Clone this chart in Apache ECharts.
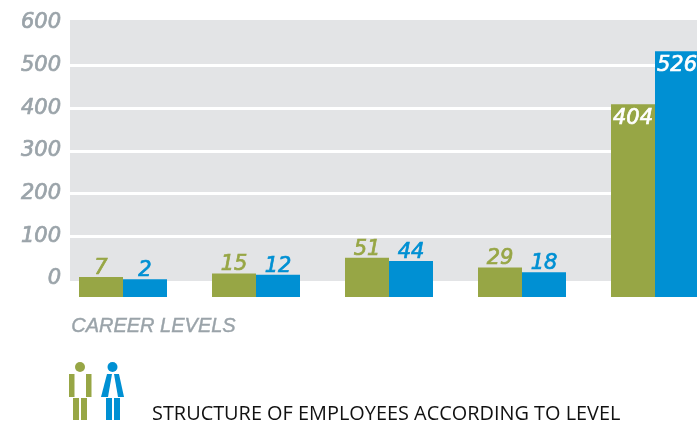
<!DOCTYPE html>
<html>
<head>
<meta charset="utf-8">
<style>html,body{margin:0;padding:0;background:#fff}#chart{width:697px;height:423px}</style>
<script src="https://cdn.jsdelivr.net/npm/echarts@6/dist/echarts.min.js"></script>
</head>
<body>
<div id="chart"></div>
<script>
// Employees per career level, split by gender
const levels = ['Level 1', 'Level 2', 'Level 3', 'Level 4', 'Level 5'];
const men = [7, 15, 51, 29, 404];
const women = [2, 12, 44, 18, 526];
const tickValues = [0, 100, 200, 300, 400, 500, 600];
const gridLineValues = [100, 200, 300, 400, 500];

const GREEN = '#97a645';
const BLUE = '#0090d3';
const GREY = '#9aa3a9';
const BAR_WIDTH = 44;
const BAR_FLOOR = -39; // bars hang below zero, down to the bottom of the lower grid
const NUM_FONT = 'oblique 21px "DejaVu Sans"';

// One side of a level group: side is -1 for the left bar, 0 for the right bar.
// Tall bars carry their number inside in white; short ones sit it on top of the bar.
function barSeries(name, values, colour, side) {
  return {
    name, type: 'custom', xAxisIndex: 1, yAxisIndex: 1, clip: false,
    encode: { x: 0, y: 1 },
    data: values.map((v, i) => [levels[i], v]),
    renderItem(params, api) {
      const top = api.coord([api.value(0), api.value(1)]);
      const floor = api.coord([api.value(0), BAR_FLOOR]);
      const inside = api.value(1) > 100;
      return {
        type: 'rect',
        shape: { x: top[0] + side * BAR_WIDTH, y: top[1], width: BAR_WIDTH, height: floor[1] - top[1] },
        style: { fill: colour },
        textContent: {
          style: {
            text: String(api.value(1)), font: NUM_FONT, fill: inside ? '#fff' : colour,
            stroke: inside ? '#fff' : colour, lineWidth: 0.7
          }
        },
        textConfig: inside
          ? { position: 'insideTop', distance: 4 }
          : { position: 'top', distance: -2 }
      };
    }
  };
}

const chart = echarts.init(document.getElementById('chart'), null, { renderer: 'canvas' });
chart.setOption({
  animation: false,
  backgroundColor: '#fff',
  grid: [
    { left: 70, right: 0, top: 20, height: 261, show: true, backgroundColor: '#e3e4e6', borderWidth: 0, outerBoundsMode: 'none' },
    { left: 56.5, width: 665, top: 20, height: 277, outerBoundsMode: 'none' }
  ],
  xAxis: [
    { type: 'category', gridIndex: 0, data: levels, show: false },
    { type: 'category', gridIndex: 1, data: levels, show: false }
  ],
  yAxis: [
    {
      type: 'value', gridIndex: 0, min: -4.7, max: 607,
      axisLine: { show: false },
      axisTick: { show: false, customValues: gridLineValues },
      axisLabel: {
        customValues: tickValues, color: GREY, margin: 9, align: 'right',
        fontFamily: 'DejaVu Sans', fontStyle: 'oblique', fontSize: 21,
        textBorderColor: GREY, textBorderWidth: 0.7
      },
      splitLine: { show: true, lineStyle: { color: '#fff', width: 3 } }
    },
    { type: 'value', gridIndex: 1, min: BAR_FLOOR, max: 597.7, show: false, splitLine: { show: false } }
  ],
  series: [barSeries('Men', men, GREEN, -1), barSeries('Women', women, BLUE, 0)],
  graphic: [
    { type: 'text', left: 71, top: 316, style: { text: 'CAREER LEVELS', fill: GREY, stroke: GREY, lineWidth: 0.4, font: 'italic 20px "Liberation Sans"' } },
    { type: 'text', left: 152, top: 404, style: { text: 'STRUCTURE OF EMPLOYEES ACCORDING TO LEVEL', fill: '#111', font: '19.9px "Open Sans"' } },
    // Pictogram of a man
    { type: 'circle', shape: { cx: 80, cy: 367, r: 5 }, style: { fill: GREEN } },
    { type: 'rect', shape: { x: 69, y: 374, width: 5.5, height: 23 }, style: { fill: GREEN } },
    { type: 'rect', shape: { x: 86, y: 374, width: 5.5, height: 23 }, style: { fill: GREEN } },
    { type: 'rect', shape: { x: 73, y: 398, width: 6, height: 22 }, style: { fill: GREEN } },
    { type: 'rect', shape: { x: 81, y: 398, width: 6, height: 22 }, style: { fill: GREEN } },
    // Pictogram of a woman
    { type: 'circle', shape: { cx: 112.5, cy: 367, r: 5 }, style: { fill: BLUE } },
    { type: 'polygon', shape: { points: [[107, 374], [112, 374], [108, 397], [101, 397]] }, style: { fill: BLUE } },
    { type: 'polygon', shape: { points: [[114, 374], [119, 374], [124, 397], [118, 397]] }, style: { fill: BLUE } },
    { type: 'rect', shape: { x: 106, y: 398, width: 6, height: 22 }, style: { fill: BLUE } },
    { type: 'rect', shape: { x: 114, y: 398, width: 6, height: 22 }, style: { fill: BLUE } }
  ]
});
</script>
</body>
</html>
